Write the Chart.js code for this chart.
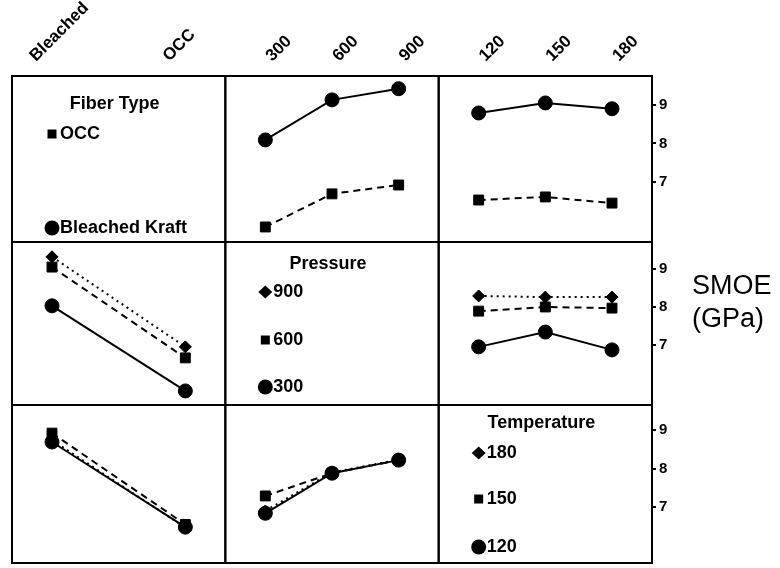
<!DOCTYPE html>
<html>
<head>
<meta charset="utf-8">
<title>SMOE interaction plot</title>
<script src="https://cdn.jsdelivr.net/npm/chart.js@4.4.1/dist/chart.umd.min.js"></script>
<style>
  html, body { margin: 0; padding: 0; background: #fff; }
  #wrap { position: relative; width: 780px; height: 568px; }
</style>
</head>
<body>
<div id="wrap"><canvas id="chart" width="780" height="568"></canvas></div>
<script>
// factor levels
const fiberTypes = ['Bleached', 'OCC'];
const fiberNames = ['Bleached Kraft', 'OCC'];
const pressures = [300, 600, 900];
const temperatures = [120, 150, 180];
const smoeTicks = [7, 8, 9];

// row 1: SMOE (GPa), one line per fiber type
const pressureBleached = [8.09, 9.13, 9.42];
const pressureOCC = [5.83, 6.69, 6.92];
const tempBleached = [8.79, 9.05, 8.90];
const tempOCC = [6.53, 6.61, 6.45];

// row 2: one line per pressure
const fiberP300 = [8.03, 5.79];
const fiberP600 = [9.05, 6.66];
const fiberP900 = [9.32, 6.95];
const tempP300 = [6.95, 7.34, 6.87];
const tempP600 = [7.89, 8.00, 7.97];
const tempP900 = [8.29, 8.26, 8.26];

// row 3: one line per temperature
const fiberT120 = [8.69, 6.48];
const fiberT150 = [8.92, 6.55];
const fiberT180 = [8.74, 6.47];
const pressT120 = [6.84, 7.88, 8.22];
const pressT150 = [7.29, 7.88, 8.22];
const pressT180 = [6.90, 7.90, 8.23];

const fontFamily = "'Liberation Sans', Arial, sans-serif";
Chart.defaults.font.family = fontFamily;
Chart.defaults.color = '#000';

// marker + line style for 1st, 2nd, 3rd level of a factor
const levelStyles = [
    { pointStyle: 'circle', pointRadius: 7, borderDash: [] },
    { pointStyle: 'rect', pointRadius: 7, borderDash: [7, 5] },
    { pointStyle: 'rectRot', pointRadius: 6, borderDash: [2, 4] }
];

const fiberX = fiberTypes.map((_, i) => i);

function series(xAxis, yAxis, xs, ys, level) {
    return Object.assign({
        xAxisID: xAxis,
        yAxisID: yAxis,
        data: xs.map((x, i) => ({ x: x, y: ys[i] })),
        showLine: true,
        borderColor: '#000',
        backgroundColor: '#000',
        pointBackgroundColor: '#000',
        pointBorderColor: '#000',
        borderWidth: 2,
        pointBorderWidth: 1
    }, levelStyles[level]);
}

const datasets = [
    series('x2', 'y1', pressures, pressureBleached, 0),
    series('x2', 'y1', pressures, pressureOCC, 1),
    series('x3', 'y1', temperatures, tempBleached, 0),
    series('x3', 'y1', temperatures, tempOCC, 1),

    series('x1', 'y2', fiberX, fiberP300, 0),
    series('x1', 'y2', fiberX, fiberP600, 1),
    series('x1', 'y2', fiberX, fiberP900, 2),
    series('x3', 'y2', temperatures, tempP300, 0),
    series('x3', 'y2', temperatures, tempP600, 1),
    series('x3', 'y2', temperatures, tempP900, 2),

    series('x1', 'y3', fiberX, fiberT120, 0),
    series('x1', 'y3', fiberX, fiberT150, 1),
    series('x1', 'y3', fiberX, fiberT180, 2),
    series('x2', 'y3', pressures, pressT120, 0),
    series('x2', 'y3', pressures, pressT150, 1),
    series('x2', 'y3', pressures, pressT180, 2)
];

function columnAxis(weight, min, max, values, labels, labelOffset) {
    return {
        type: 'linear',
        position: 'top',
        stack: 'cols',
        weight: weight,
        min: min,
        max: max,
        afterBuildTicks: (s) => { s.ticks = values.map(v => ({ value: v })); },
        afterFit: (s) => {
            s.height = 76;
            s.paddingLeft = 0;
            s.paddingRight = 0;
        },
        grid: { display: false, drawTicks: false },
        border: { display: false },
        ticks: {
            autoSkip: false,
            minRotation: 45,
            maxRotation: 45,
            padding: 10,
            labelOffset: labelOffset,
            color: '#000',
            font: { size: 17, weight: 'bold' },
            callback: (v, i) => labels[i]
        }
    };
}

function rowAxis(weight, stackWeight, min, max) {
    return {
        type: 'linear',
        position: 'right',
        stack: 'rows',
        stackWeight: stackWeight,
        weight: weight,
        min: min,
        max: max,
        afterBuildTicks: (s) => { s.ticks = smoeTicks.map(v => ({ value: v })); },
        afterFit: (s) => {
            s.width = 128;
            s.paddingTop = 0;
            s.paddingBottom = 0;
        },
        grid: { drawOnChartArea: false, tickLength: 4, color: '#000', lineWidth: 2 },
        border: { display: false },
        ticks: { padding: 3, color: '#000', font: { size: 15, weight: 'bold' } }
    };
}

// legends drawn inside the diagonal panels
const panelLegends = [
    { x: 'x1', y: 'y1', title: 'Fiber Type', titleDy: 28, items: [
        { text: fiberNames[1], level: 1, dy: 58 },
        { text: fiberNames[0], level: 0, dy: 152 }
    ] },
    { x: 'x2', y: 'y2', title: 'Pressure', titleDy: 22, items: [
        { text: String(pressures[2]), level: 2, dy: 50 },
        { text: String(pressures[1]), level: 1, dy: 98 },
        { text: String(pressures[0]), level: 0, dy: 145 }
    ] },
    { x: 'x3', y: 'y3', title: 'Temperature', titleDy: 18, items: [
        { text: String(temperatures[2]), level: 2, dy: 48 },
        { text: String(temperatures[1]), level: 1, dy: 94 },
        { text: String(temperatures[0]), level: 0, dy: 142 }
    ] }
];

function drawMarker(ctx, level, x, y) {
    ctx.beginPath();
    if (level === 0) {
        ctx.arc(x, y, 7.5, 0, Math.PI * 2);
    } else if (level === 1) {
        ctx.rect(x - 4.5, y - 4.5, 9, 9);
    } else {
        ctx.moveTo(x, y - 6.5);
        ctx.lineTo(x + 7, y);
        ctx.lineTo(x, y + 6.5);
        ctx.lineTo(x - 7, y);
        ctx.closePath();
    }
    ctx.fill();
}

const framePlugin = {
    id: 'frames',
    afterDraw(chart) {
        const ctx = chart.ctx;
        const s = chart.scales;
        ctx.save();
        ctx.strokeStyle = '#000';
        ctx.lineWidth = 2;
        ['x1', 'x2', 'x3'].forEach(xk => {
            ['y1', 'y2', 'y3'].forEach(yk => {
                ctx.strokeRect(s[xk].left, s[yk].top, s[xk].width, s[yk].height);
            });
        });

        ctx.fillStyle = '#000';
        panelLegends.forEach(lg => {
            const left = s[lg.x].left;
            const top = s[lg.y].top;
            ctx.font = 'bold 18px ' + fontFamily;
            ctx.textAlign = 'center';
            ctx.textBaseline = 'middle';
            ctx.fillText(lg.title, left + s[lg.x].width / 2 - 4, top + lg.titleDy);
            ctx.textAlign = 'left';
            lg.items.forEach(it => {
                drawMarker(ctx, it.level, left + 40, top + it.dy);
                ctx.fillText(it.text, left + 48, top + it.dy);
            });
        });

        // axis title beside the middle row
        ctx.font = '27px ' + fontFamily;
        ctx.textAlign = 'left';
        ctx.textBaseline = 'middle';
        const tx = chart.chartArea.right + 40;
        ctx.fillText('SMOE', tx, s.y2.top + 45);
        ctx.fillText('(GPa)', tx, s.y2.top + 78);
        ctx.restore();
    }
};

new Chart(document.getElementById('chart'), {
    type: 'scatter',
    data: { datasets: datasets },
    options: {
        responsive: false,
        animation: false,
        layout: { autoPadding: false, padding: { left: 12, right: 0, top: 0, bottom: 5 } },
        plugins: { legend: { display: false }, tooltip: { enabled: false } },
        scales: {
            x1: columnAxis(3, -0.3, 1.3, fiberX, fiberTypes, -5),
            x2: columnAxis(2, 120, 1080, pressures, pressures.map(String), 18),
            x3: columnAxis(1, 102, 198, temperatures, temperatures.map(String), 18),
            y1: rowAxis(1, 166, 5.44, 9.75),
            y2: rowAxis(2, 163, 5.42, 9.71),
            y3: rowAxis(3, 158, 5.55, 9.65)
        }
    },
    plugins: [framePlugin]
});
</script>
</body>
</html>
